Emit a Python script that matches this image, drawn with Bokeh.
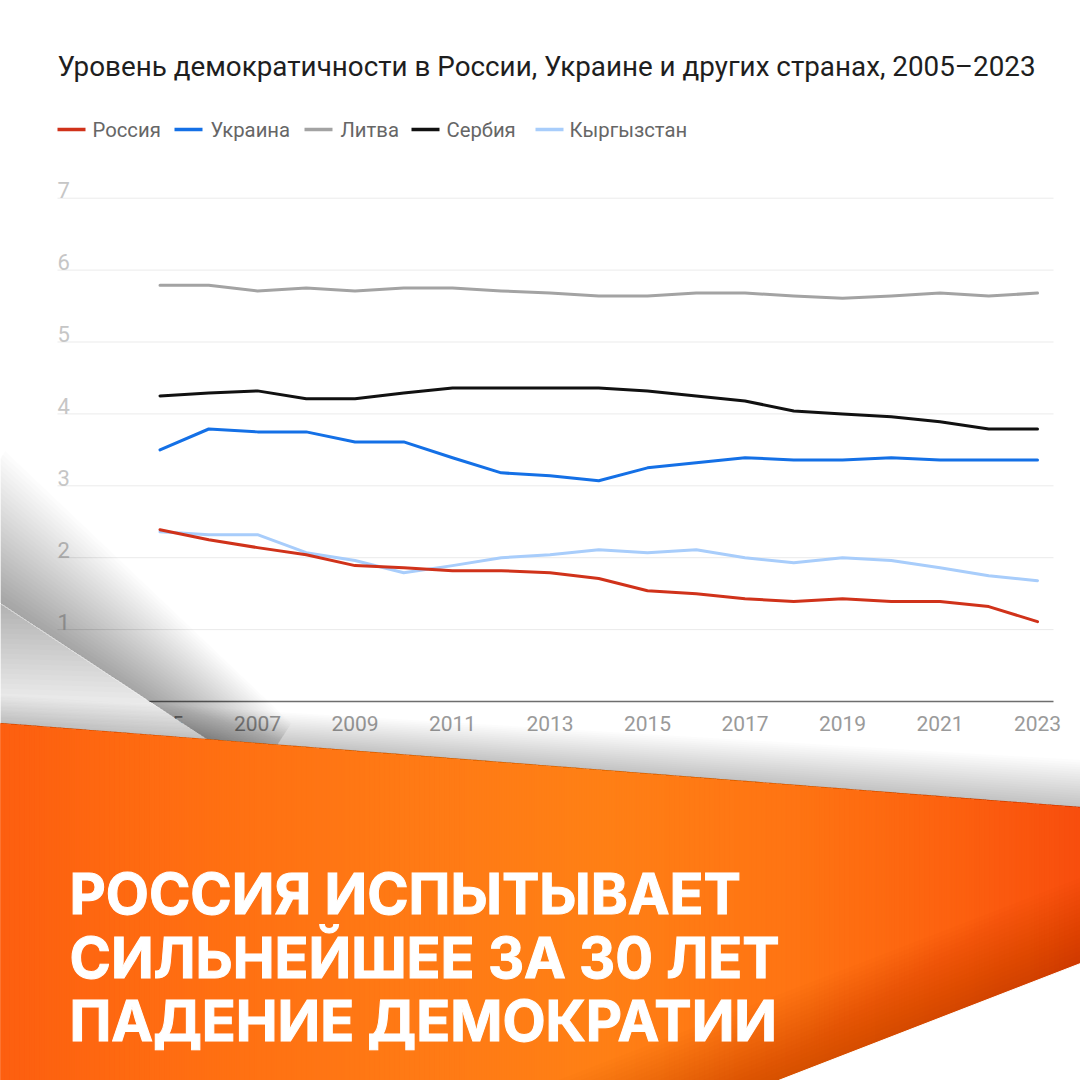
import numpy as np
from bokeh.plotting import figure
from bokeh.models import Range1d
from bokeh.core.properties import value
from bokeh.embed import file_html
from bokeh.resources import INLINE

# ---------------- data ----------------
years = list(range(2005, 2024))
russia = [2.39, 2.25, 2.14, 2.04, 1.89, 1.86, 1.82, 1.82, 1.79, 1.71, 1.54, 1.50, 1.43, 1.39, 1.43, 1.39, 1.39, 1.32, 1.11]
ukraine = [3.50, 3.79, 3.75, 3.75, 3.61, 3.61, 3.39, 3.18, 3.14, 3.07, 3.25, 3.32, 3.39, 3.36, 3.36, 3.39, 3.36, 3.36, 3.36]
lithuania = [5.79, 5.79, 5.71, 5.75, 5.71, 5.75, 5.75, 5.71, 5.68, 5.64, 5.64, 5.68, 5.68, 5.64, 5.61, 5.64, 5.68, 5.64, 5.68]
serbia = [4.25, 4.29, 4.32, 4.21, 4.21, 4.29, 4.36, 4.36, 4.36, 4.36, 4.32, 4.25, 4.18, 4.04, 4.00, 3.96, 3.89, 3.79, 3.79]
kyrgyzstan = [2.36, 2.32, 2.32, 2.07, 1.96, 1.79, 1.89, 2.00, 2.04, 2.11, 2.07, 2.11, 2.00, 1.93, 2.00, 1.96, 1.86, 1.75, 1.68]

series_names = ["Россия", "Украина", "Литва", "Сербия", "Кыргызстан"]
series_values = [russia, ukraine, lithuania, serbia, kyrgyzstan]
series_colors = ["#d0321a", "#1470e6", "#a3a3a3", "#111111", "#a8cdfb"]

y_ticks = [1, 2, 3, 4, 5, 6, 7]
x_ticks = [2005, 2007, 2009, 2011, 2013, 2015, 2017, 2019, 2021, 2023]
x_tick_labels = [str(t) for t in x_ticks]

title_text = "Уровень демократичности в России, Украине и других странах, 2005–2023"
headline_lines = ["РОССИЯ ИСПЫТЫВАЕТ", "СИЛЬНЕЙШЕЕ ЗА 30 ЛЕТ", "ПАДЕНИЕ ДЕМОКРАТИИ"]
credit_text = "Created with Datawrapper"

# ---------------- geometry (page pixels) ----------------
X0_PX, PX_PER_YEAR = 159.5, 48.75
Y0_PX, PX_PER_UNIT = 701.0, 71.9
W = H = 1080


def yr(px):
    return 2005 + (px - X0_PX) / PX_PER_YEAR


def val(py):
    return (Y0_PX - py) / PX_PER_UNIT


p = figure(width=W, height=H, output_backend="svg", toolbar_location=None,
           x_axis_location=None, y_axis_location=None,
           x_range=Range1d(yr(0), yr(W)), y_range=Range1d(val(H), val(0)),
           min_border=0, outline_line_color=None, background_fill_color="white",
           border_fill_color="white")
p.grid.visible = False
p.extra_x_ranges = {"px": Range1d(0, W)}
p.extra_y_ranges = {"px": Range1d(H, 0)}
PX = dict(x_range_name="px", y_range_name="px")

GRID_L, GRID_R = yr(57), yr(1053)

# grid lines
p.segment(x0=[GRID_L] * len(y_ticks), x1=[GRID_R] * len(y_ticks), y0=y_ticks, y1=y_ticks,
          line_color="#ebebeb", line_width=1)
# baseline
p.segment(x0=[GRID_L], x1=[GRID_R], y0=[0], y1=[0], line_color="#6e6e6e", line_width=1.6)

# y tick labels (above the grid lines, left aligned)
p.text(x=[GRID_L] * len(y_ticks), y=y_ticks, text=[str(t) for t in y_ticks],
       text_font=value("Roboto"), text_font_size="22px", text_color="#c6c6c6",
       text_align="left", text_baseline="alphabetic", y_offset=-8)
# x tick labels
p.text(x=x_ticks, y=[0] * len(x_ticks), text=x_tick_labels,
       text_font=value("Roboto"), text_font_size="21px", text_color="#9a9a9a",
       text_align="center", text_baseline="middle", y_offset=22)

# data lines
draw_order = [2, 3, 1, 4, 0]
for i in draw_order:
    p.line(years, series_values[i], line_color=series_colors[i], line_width=3,
           line_join="round", line_cap="round")

# title
p.text(x=[57], y=[66], text=[title_text], text_font=value("Roboto"), text_font_size="27.8px",
       text_color="#1e1e1e", text_baseline="alphabetic", **PX)

# legend
sw_x = [57, 174, 304, 411, 535]
tx_x = [92, 210, 340, 446, 569]
p.segment(x0=sw_x, x1=[s + 28 for s in sw_x], y0=[129] * 5, y1=[129] * 5,
          line_color=series_colors, line_width=3.5, **PX)
p.text(x=tx_x, y=[129] * 5, text=series_names, text_font=value("Roboto"),
       text_font_size="20.3px", text_color="#666666", text_baseline="middle", **PX)

# credit (mostly hidden by the banner)
p.text(x=[783], y=[791], text=[credit_text], text_font=value("Roboto"), text_font_size="17px",
       text_color="#2a93b0", text_align="right", text_baseline="alphabetic", **PX)

# ---------------- left fold shadow ----------------
E1 = np.array([0.0, 603.0])
E2 = np.array([208.0, 740.0])
d = (E2 - E1) / np.linalg.norm(E2 - E1)
n = np.array([d[1], -d[0]])
A = E1 - d * 80
B = E2 + d * 60
N = 30
xs, ys = [], []
for k in range(1, N + 1):
    w1 = 130 * k / N
    w2 = 60 * k / N
    poly = [A, B, B + n * w2, A + n * w1]
    xs.append([q[0] for q in poly])
    ys.append([q[1] for q in poly])
p.patches(xs, ys, fill_color="black", fill_alpha=0.012, line_color=None, **PX)

# flap (near white) with slight shading toward its upper-left corner
flap = [A, B, np.array([B[0], 1100.0]), np.array([A[0], 1100.0])]
p.patch([q[0] for q in flap], [q[1] for q in flap], fill_color="#fbfbfb", line_color=None, **PX)
xs, ys = [], []
N2 = 24
for k in range(1, N2 + 1):
    L = 230 * k / N2
    Hh = 120 * k / N2
    poly = [A, E1 + d * L, np.array([-10.0, 603 + Hh])]
    xs.append([q[0] for q in poly])
    ys.append([q[1] for q in poly])
p.patches(xs, ys, fill_color="black", fill_alpha=0.011, line_color=None, **PX)

# ---------------- orange banner ----------------
def top_y(x):
    return 723 + (807 - 723) * x / 1080.0


DA = np.array([778.0, 1080.0])
DB = np.array([1080.0, 963.0])


def diag_y(x):
    return DA[1] + (DB[1] - DA[1]) * (x - DA[0]) / (DB[0] - DA[0])


def bot_y(x):
    return min(1100.0, diag_y(x))


stops_x = [0, 150, 400, 600, 800, 950, 1080, 1100]
stops_c = [(253, 95, 16), (255, 108, 18), (255, 122, 21), (255, 128, 22), (255, 116, 19),
           (253, 98, 16), (248, 78, 14), (248, 78, 14)]


def col(x):
    r = np.interp(x, stops_x, [c[0] for c in stops_c])
    g = np.interp(x, stops_x, [c[1] for c in stops_c])
    b = np.interp(x, stops_x, [c[2] for c in stops_c])
    return "#%02x%02x%02x" % (int(r), int(g), int(b))


xs, ys, cs = [], [], []
step = 5
x = -10.0
while x < 1100:
    x1 = x + step
    poly = [(x, top_y(x)), (x1, top_y(x1)), (x1, bot_y(x1)), (x, bot_y(x))]
    xs.append([q[0] for q in poly])
    ys.append([q[1] for q in poly])
    cs.append(col(x + step / 2))
    x = x1
p.patches(xs, ys, fill_color=cs, line_color=cs, line_width=1.2, **PX)

# darker band along the lower-right diagonal edge
dd = (DB - DA) / np.linalg.norm(DB - DA)
nn = np.array([dd[1], -dd[0]])
if nn[1] > 0:
    nn = -nn
PA = DA - dd * 320
PB = DB + dd * 40
xs, ys = [], []
N3 = 20
for k in range(1, N3 + 1):
    w = 80 * k / N3
    poly = [PA, PB, PB + nn * w, PA + nn * w]
    xs.append([q[0] for q in poly])
    ys.append([q[1] for q in poly])
p.patches(xs, ys, fill_color="#7a2a00", fill_alpha=0.011, line_color=None, **PX)

# white corner (bottom-right)
p.patch([DA[0] - dd[0] * 320, DB[0] + dd[0] * 40, 1100, 1100],
        [DA[1] - dd[1] * 320, DB[1] + dd[1] * 40, 1100, 1100],
        fill_color="white", line_color="white", line_width=1, **PX)

# soft shadow above the banner's top edge
xs, ys = [], []
N4 = 20
for k in range(1, N4 + 1):
    hl = 28 * k / N4
    hr = 48 * k / N4
    xs.append([-10, 1100, 1100, -10])
    ys.append([top_y(-10), top_y(1100), top_y(1100) - hr, top_y(-10) - hl])
p.patches(xs, ys, fill_color="black", fill_alpha=0.011, line_color=None, **PX)

# headline
p.text(x=[69] * 3, y=[893, 957, 1020], text=headline_lines, text_font=value("Inter"),
       text_font_size="56px", text_font_style="bold", text_color="white",
       text_outline_color="white", text_baseline="alphabetic", **PX)

open("out.html", "w").write(file_html(p, INLINE))
